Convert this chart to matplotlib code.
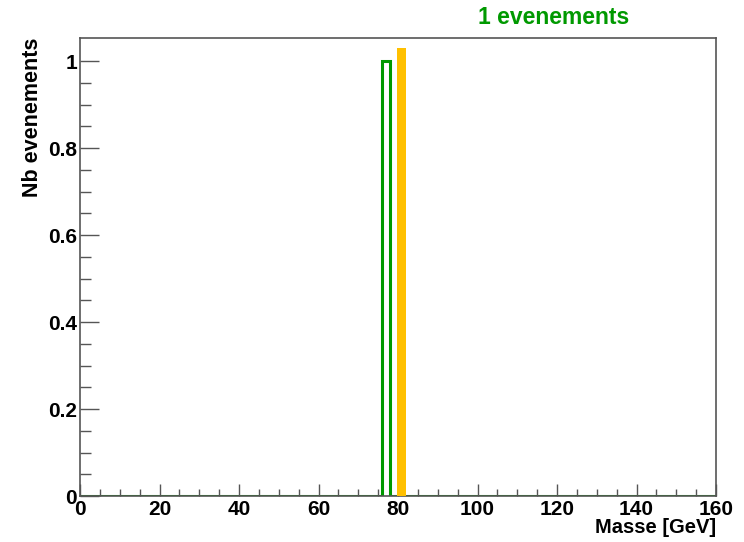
import numpy as np
import matplotlib
matplotlib.use("Agg")
import matplotlib.pyplot as plt

# Data
bin_edges = np.arange(0, 162, 2)          # 80 bins of 2 GeV from 0 to 160
event_masses = [77.0]                      # one event in bin [76,78]
marker_center = 80.8                       # orange reference band
marker_width = 2.2
marker_height = 1.03
title_text = "1 evenements"
xlabel_text = "Masse [GeV]"
ylabel_text = "Nb evenements"

plt.rcParams['font.family'] = ['Liberation Sans', 'DejaVu Sans']
plt.rcParams['font.weight'] = 'bold'

fig = plt.figure(figsize=(7.44, 5.42), dpi=100)
ax = fig.add_axes([80/744, 1-496/542, (716-80)/744, (496-38)/542])

counts, _ = np.histogram(event_masses, bins=bin_edges)
ax.stairs(counts, bin_edges, color='#009900', linewidth=2.2, baseline=0)
ax.bar([marker_center], [marker_height], width=marker_width, color='#FFC000',
       edgecolor='none', zorder=3)

ax.set_xlim(0, 160)
ax.set_ylim(0, 1.053)

ax.set_xticks(np.arange(0, 161, 20))
ax.set_xticks(np.arange(0, 161, 5), minor=True)
ax.set_yticks([0, 0.2, 0.4, 0.6, 0.8, 1.0])
ax.set_yticklabels(['0', '0.2', '0.4', '0.6', '0.8', '1'])
ax.set_yticks(np.arange(0, 1.05, 0.05), minor=True)

for s in ax.spines.values():
    s.set_color('#555555')
    s.set_linewidth(1.2)

ax.tick_params(axis='both', which='both', direction='in', color='#555555',
               labelsize=15, width=1)
ax.tick_params(axis='y', which='major', length=14, pad=2)
ax.tick_params(axis='y', which='minor', length=8)
ax.tick_params(axis='x', which='major', length=9, pad=3)
ax.tick_params(axis='x', which='minor', length=5)
for lbl in ax.get_xticklabels() + ax.get_yticklabels():
    lbl.set_fontweight('bold')

ax.set_xlabel(xlabel_text, fontsize=14.5, fontweight='bold', loc='right', labelpad=-1)
ax.set_ylabel(ylabel_text, fontsize=15.5, fontweight='bold', loc='top', labelpad=4)

fig.text(554/744, 1-18/542, title_text, color='#009900', fontsize=16.5,
         fontweight='bold', ha='center', va='center')

fig.savefig('out.png', dpi=100, facecolor='white')
